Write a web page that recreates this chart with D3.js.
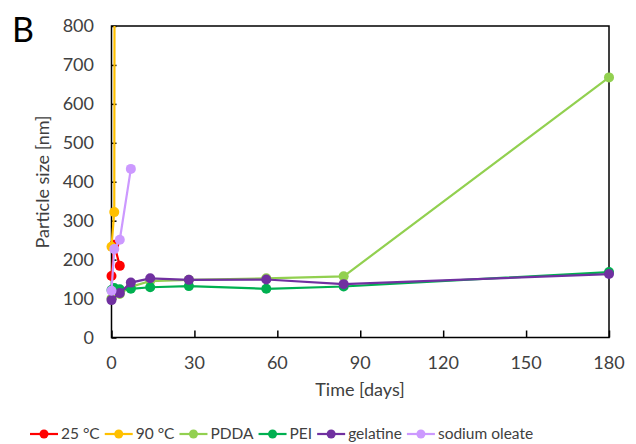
<!DOCTYPE html>
<html><head><meta charset="utf-8">
<script src="https://cdn.jsdelivr.net/npm/d3@7"></script>
<style>body{margin:0;background:#fff}svg{display:block}text{font-family:Lato,sans-serif}</style>
</head><body><svg id="c" width="636" height="444"></svg>
<script>
const seriesNames = ["25 °C","90 °C","PDDA","PEI","gelatine","sodium oleate"];
const colors = ["#FF0000","#FFC000","#92D050","#00B050","#7030A0","#CC99FF"];
const days25 = [0,1,3];       const vals25 = [158,238,184];
const days90 = [0,1,2];       const vals90 = [233,322,6000];
const daysPDDA = [0,3,7,14,28,56,84,180]; const valsPDDA = [100,112,130,145,148,152,157,668];
const daysPEI = [0,1,3,7,14,28,56,84,180]; const valsPEI = [122,127,124,125,129,132,125,131,168];
const daysGel = [0,3,7,14,28,56,84,180]; const valsGel = [96,114,141,152,148,149,137,163];
const daysSO = [0,1,3,7]; const valsSO = [120,227,251,433];
const xTicks = [0,30,60,90,120,150,180];
const yTicks = [0,100,200,300,400,500,600,700,800];

const data = [[days25,vals25],[days90,vals90],[daysPDDA,valsPDDA],[daysPEI,valsPEI],[daysGel,valsGel],[daysSO,valsSO]]
  .map((d,i)=>({name:seriesNames[i],color:colors[i],pts:d[0].map((x,j)=>({x,y:d[1][j]}))}));

const svg = d3.select("#c");
const L=111.5,R=609,T=26,B=337.5;
const x = d3.scaleLinear().domain([0,180]).range([L,R]);
const y = d3.scaleLinear().domain([0,800]).range([B,T]);

svg.append("defs").append("clipPath").attr("id","clip").append("rect")
  .attr("x",L-8).attr("y",T).attr("width",R-L+16).attr("height",B-T+8);

svg.append("rect").attr("x",L).attr("y",T).attr("width",R-L).attr("height",B-T)
  .attr("fill","none").attr("stroke","#000").attr("stroke-width",1.5);

const ya = svg.append("g").attr("transform",`translate(${L},0)`)
  .call(d3.axisRight(y).tickValues(yTicks).tickSize(5).tickFormat(""));
ya.select(".domain").remove();
ya.selectAll("line").attr("stroke","#000").attr("stroke-width",1.5);
const xa = svg.append("g").attr("transform",`translate(0,${B})`)
  .call(d3.axisTop(x).tickValues(xTicks).tickSize(7).tickFormat(""));
xa.select(".domain").remove();
xa.selectAll("line").attr("stroke","#000").attr("stroke-width",1.5);

svg.append("g").selectAll("text").data(yTicks).join("text")
  .attr("x",94).attr("y",d=>y(d)).attr("dy","0.35em").attr("text-anchor","end")
  .attr("font-size",18).attr("fill","#404040").text(d=>d);
svg.append("g").selectAll("text").data(xTicks).join("text")
  .attr("x",d=>x(d)).attr("y",363).attr("dy","0.35em").attr("text-anchor","middle")
  .attr("font-size",18).attr("fill","#404040").text(d=>d);

svg.append("text").attr("x",360).attr("y",390).attr("dy","0.35em").attr("text-anchor","middle")
  .attr("font-size",18).attr("fill","#404040").text("Time [days]");
svg.append("text").attr("transform","translate(43,182) rotate(-90)").attr("dy","0.35em")
  .attr("text-anchor","middle").attr("font-size",18).attr("fill","#404040").text("Particle size [nm]");
svg.append("text").attr("x",12).attr("y",30).attr("dy","0.35em").attr("font-size",34).attr("fill","#000").text("B");

const line = d3.line().x(d=>x(d.x)).y(d=>y(d.y));
const g = svg.append("g").attr("clip-path","url(#clip)");
data.forEach(s=>{
  g.append("path").datum(s.pts).attr("d",line).attr("fill","none")
    .attr("stroke",s.color).attr("stroke-width",2.2);
  g.selectAll(null).data(s.pts).join("circle").attr("cx",d=>x(d.x)).attr("cy",d=>y(d.y))
    .attr("r",5).attr("fill",s.color);
});

const lg = svg.append("g");
let gx = 30;
data.forEach((s,i)=>{
  const gy = 434;
  lg.append("line").attr("x1",gx).attr("x2",gx+28).attr("y1",gy).attr("y2",gy).attr("stroke",s.color).attr("stroke-width",2.2);
  lg.append("circle").attr("cx",gx+14).attr("cy",gy).attr("r",4.5).attr("fill",s.color);
  const t = lg.append("text").attr("x",gx+31).attr("y",gy).attr("dy","0.35em").attr("font-size",15.5).attr("fill","#404040").text(s.name);
  gx += 31 + t.node().getComputedTextLength() + 5;
});
</script></body></html>
